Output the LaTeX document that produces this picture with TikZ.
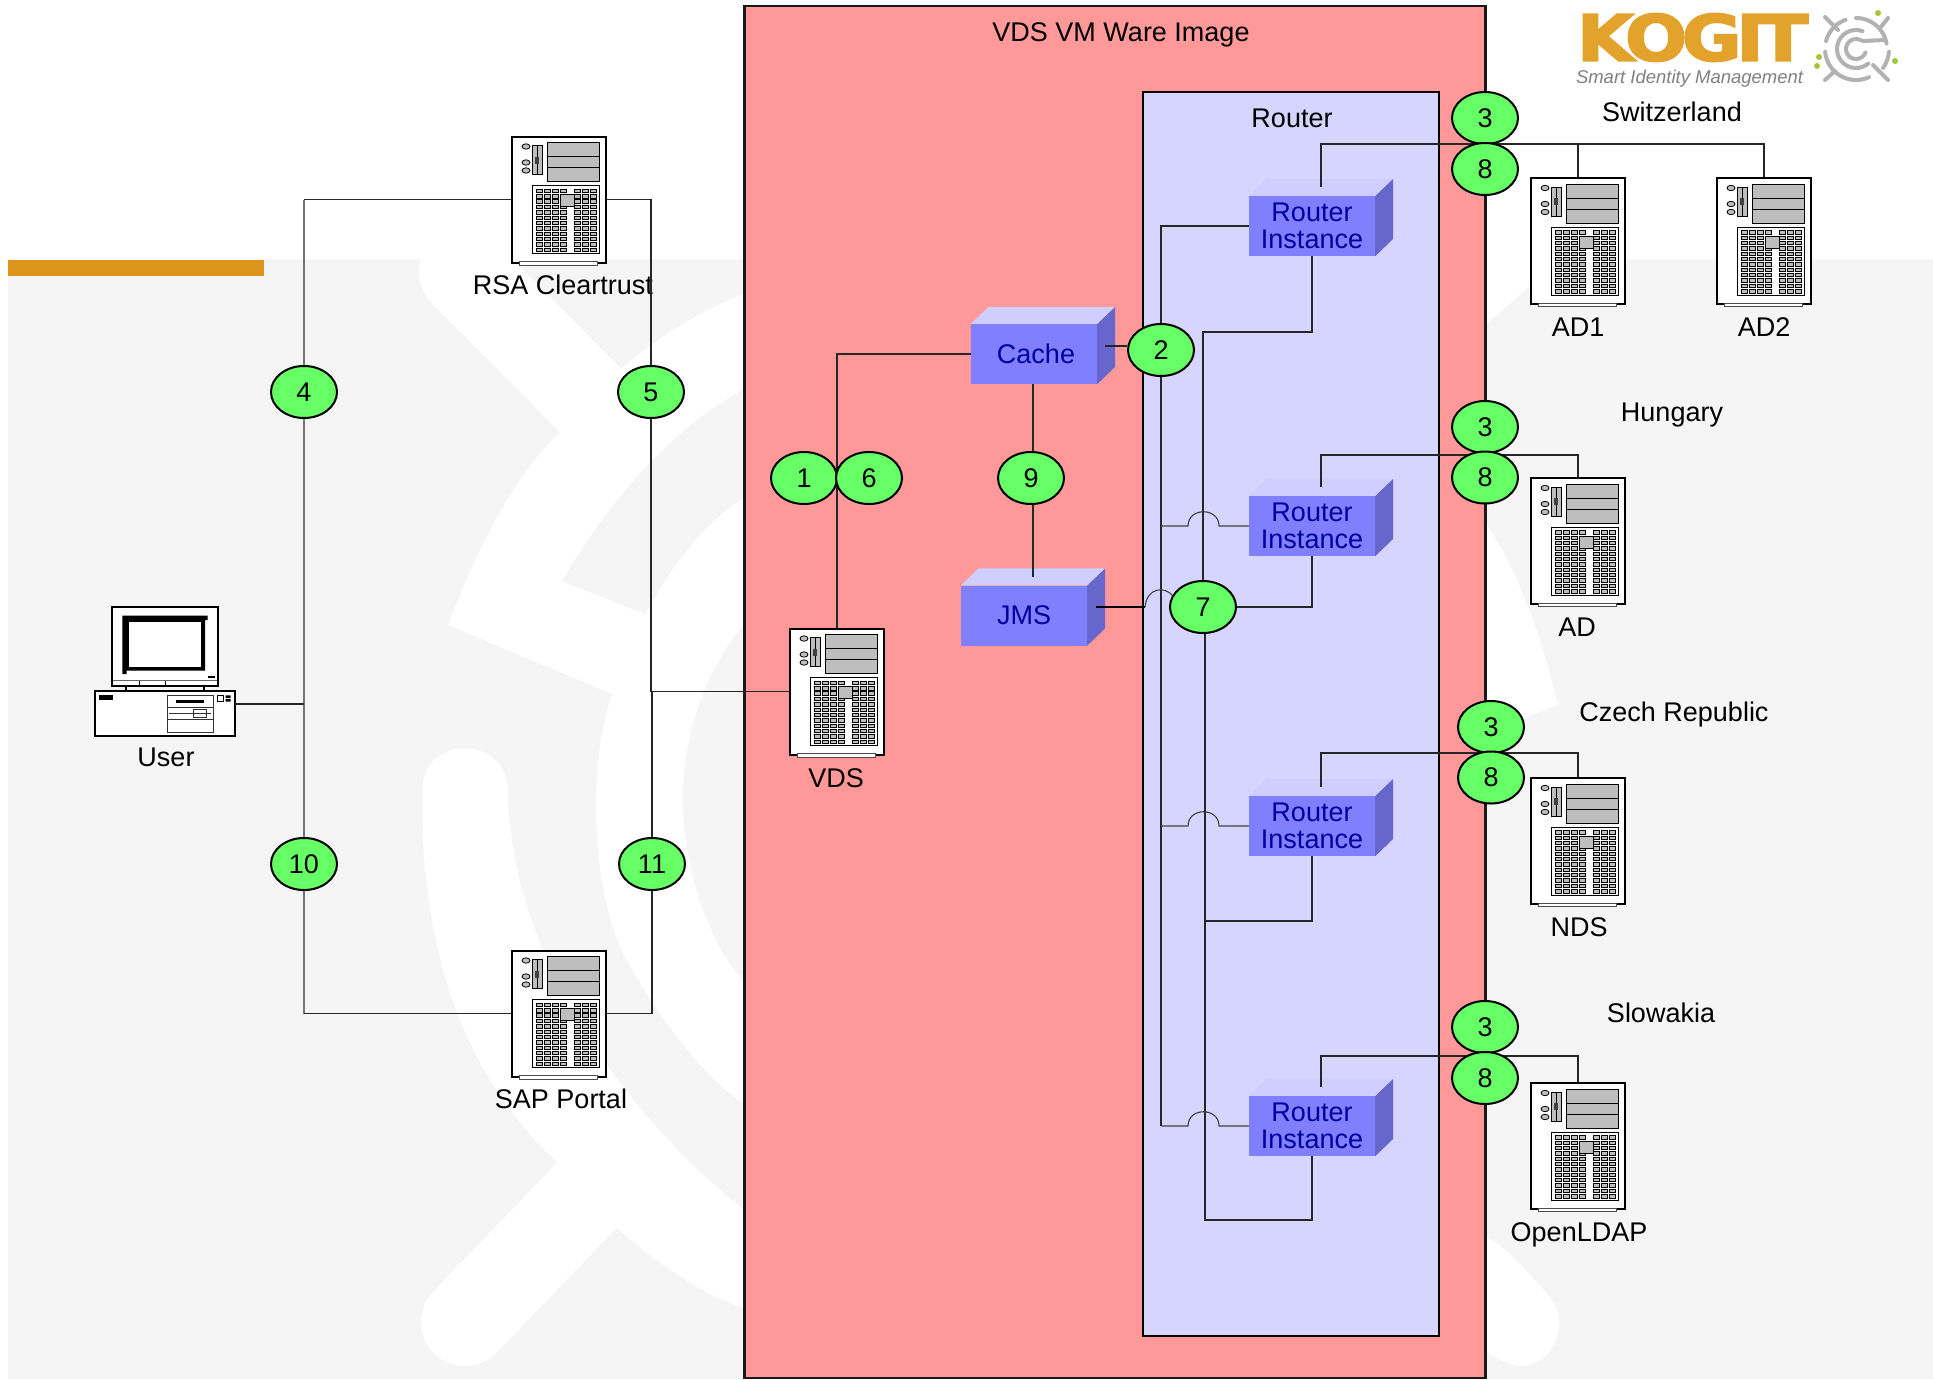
\documentclass[tikz,border=0pt]{standalone}
\usepackage{fontspec}
\usepackage{graphicx}
\setmainfont{Liberation Sans}
\newfontfamily\logofont{DejaVu Sans Bold}[FakeBold=3,LetterSpace=-7]
\usetikzlibrary{shapes.geometric,calc}
\pgfdeclarelayer{bg}
\pgfdeclarelayer{conn}
\pgfdeclarelayer{top}
\pgfsetlayers{bg,main,conn,top}
\definecolor{wmgray}{HTML}{F5F5F5}
\definecolor{barorange}{HTML}{DB951A}
\definecolor{pinkbox}{HTML}{FF9999}
\definecolor{routerbg}{HTML}{D5D5FF}
\definecolor{frontblue}{HTML}{8080FF}
\definecolor{sideblue}{HTML}{6666CC}
\definecolor{topblue}{HTML}{CFCFFF}
\definecolor{txtblue}{HTML}{0000A0}
\definecolor{stepgreen}{HTML}{66FF66}
\definecolor{logoorange}{HTML}{E2A22C}
\definecolor{logogray}{HTML}{B2B2B2}
\definecolor{logogreen}{HTML}{A6C63A}
\definecolor{srvgray}{HTML}{BEBEBE}
\newcommand{\lblfont}{\fontsize{27}{26.5}\selectfont}
\tikzset{
  stepoval/.style={ellipse,draw=black,line width=2pt,fill=stepgreen,minimum width=66pt,minimum height=52pt,inner sep=0pt,font=\lblfont},
  srvbox/.style={rectangle,draw=black,line width=2pt,fill=white,minimum width=94pt,minimum height=126pt,inner sep=0pt},
  cubefront/.style={rectangle,fill=frontblue,minimum width=126pt,minimum height=60pt,inner sep=0pt,align=center,text=txtblue,font=\lblfont},
  lbl/.style={font=\lblfont,inner sep=0pt,text=black},
  wire/.style={line width=1.1pt,draw=black!85},
  graywire/.style={line width=2pt,draw=black!55},
  hopwire/.style={line width=1.1pt,draw=black!75},
  logostroke/.style={line width=4pt,draw=logogray,line cap=round},
  serverart/.pic={
    \fill[white,draw=black!70,line width=1pt] (8,126) rectangle (86,129.5);
    \foreach \oy in {11,27,35}{\draw[fill=srvgray,line width=.8pt] (15,\oy) ellipse[x radius=4,y radius=2.7];}
    \draw[fill=srvgray,line width=.8pt] (21,10) rectangle (31,39);
    \draw[line width=.6pt] (26,10) -- (26,39);
    \fill[black!75] (24,21) rectangle (28,28);
    \draw[fill=srvgray,line width=.8pt] (36,7) rectangle (88,46);
    \draw[line width=.9pt] (36,21) -- (88,21) (36,32) -- (88,32);
    \draw[fill=white,line width=.8pt] (21,50) rectangle (88,118);
    \foreach \r in {0,...,11}{
      \foreach \cx in {25,33,41,49,63,71,79}{
        \draw[fill=srvgray,line width=.5pt] (\cx,{53.5+\r*5.35}) rectangle ++(6,3.4);
      }
    }
    \draw[fill=srvgray,line width=.8pt] (49,59) rectangle (63,71);
  }
}
\newcommand{\cubesides}[1]{%
  \fill[sideblue] (#1.north east) -- ++(18,-17) -- ++(0,60) -- (#1.south east) -- cycle;
  \fill[topblue] (#1.north west) -- ++(18,-17) -- ++(126,0) -- (#1.north east) -- cycle;
}
\newcommand{\logoarc}[3]{\draw[logostroke] plot[domain=#2:#3,samples=24] ({1856+#1*cos(\x)},{49+#1*sin(\x)});}
\begin{document}
\begin{tikzpicture}[x=1pt,y=-1pt]
\useasboundingbox (0,0) rectangle (1933,1379);

\begin{pgfonlayer}{bg}
  \fill[white] (0,0) rectangle (1933,1379);
  \fill[wmgray] (8,259) rectangle (1933,1379);
  % watermark
  \draw[white,line width=88pt,line cap=round] (463,272) -- (590,400);
  \fill[white] (432,303) -- (560,432) .. controls (510,480) and (475,555) .. (448,625)
     -- (612,694) .. controls (600,730) and (596,770) .. (596,807)
     .. controls (596,860) and (605,925) .. (630,966)
     .. controls (655,1010) and (700,1075) .. (744,1104) -- (800,1130) -- (800,280) -- (744,294)
     .. controls (700,310) and (655,340) .. (621,369) -- (494,241) -- cycle;
  \fill[wmgray] (562,581) .. controls (610,500) and (670,430) .. (744,389) -- (800,360) -- (800,470) -- (744,498)
     .. controls (700,525) and (670,570) .. (645,614) -- cycle;
  \fill[wmgray] (744,625) .. controls (705,670) and (683,735) .. (683,799)
     .. controls (683,860) and (705,940) .. (744,981) -- (800,1020) -- (800,590) -- cycle;
  \fill[white] (422,790) .. controls (422,765) and (442,748) .. (464,748)
     .. controls (486,748) and (508,765) .. (508,790) -- (508,799)
     .. controls (515,960) and (620,1110) .. (744,1210) -- (800,1235) -- (800,1335) -- (744,1308)
     .. controls (690,1290) and (650,1255) .. (616,1228) -- (557,1162)
     .. controls (480,1090) and (422,980) .. (422,799) -- cycle;
  \draw[white,line width=88pt,line cap=round] (465,1322) -- (587,1195);
  \fill[white] (1480,330) -- (1560,259) -- (1480,259) -- cycle;
  \fill[white] (1480,515) .. controls (1520,570) and (1545,650) .. (1558,705) -- (1480,735) -- cycle;
  \fill[white] (1480,1232) .. controls (1510,1250) and (1530,1275) .. (1540,1286)
     .. controls (1555,1300) and (1559,1312) .. (1559,1322)
     .. controls (1559,1345) and (1545,1364) .. (1524,1366)
     .. controls (1510,1366) and (1495,1358) .. (1480,1348) -- cycle;
  % orange bar
  \fill[barorange] (8,260) rectangle (264,276);
  % containers
  \node[rectangle,draw=black!90,line width=2.6pt,fill=pinkbox,minimum width=741pt,minimum height=1372pt,inner sep=0pt] (vmimage) at (1115,692) {};
  \node[rectangle,draw=black,line width=2.6pt,fill=routerbg,minimum width=296pt,minimum height=1244pt,inner sep=0pt] (routerarea) at (1291,714) {};
\end{pgfonlayer}

% logo
\node[inner sep=0pt,text=logoorange] (logoword) at (1692.5,37.5) {\resizebox{231pt}{47pt}{\logofont KOGIT}};
\node[inner sep=0pt,text=black!50] (logotag) at (1689.5,78.5) {\resizebox{227pt}{!}{\itshape Smart Identity Management}};
\logoarc{10}{20}{300}
\logoarc{19}{50}{290}
\logoarc{31}{195}{250}
\logoarc{31}{270}{350}
\logoarc{33}{5}{35}
\logoarc{31}{65}{175}
\draw[logostroke] (1863,41) -- (1885,40);
\draw[logostroke] (1825,17) -- (1838,30);
\draw[logostroke] (1888,18) -- (1880,28);
\draw[logostroke] (1825,80) -- (1835,71);
\draw[logostroke] (1888,80) -- (1873,65);
\fill[logogreen] (1878,13) circle[radius=3] (1819,57) circle[radius=3] (1817,66) circle[radius=3] (1895,61) circle[radius=3];

% step markers
\begin{pgfonlayer}{top}
  \node[stepoval] (e4) at (304,392) {4};
  \node[stepoval] (e5) at (651,392) {5};
  \node[stepoval] (e10) at (304,864) {10};
  \node[stepoval] (e11) at (652,864) {11};
  \node[stepoval] (e1) at (804,478) {1};
  \node[stepoval] (e6) at (869,478) {6};
  \node[stepoval] (e9) at (1031,478) {9};
  \node[stepoval] (e2) at (1161,350) {2};
  \node[stepoval] (e7) at (1203,607) {7};
  \node[stepoval] (sa) at (1485,118) {3};
  \node[stepoval] (sb) at (1485,169) {8};
  \node[stepoval] (ha) at (1485,427) {3};
  \node[stepoval] (hb) at (1485,477.5) {8};
  \node[stepoval] (ca) at (1491,727) {3};
  \node[stepoval] (cb) at (1491,777.5) {8};
  \node[stepoval] (la) at (1485,1027) {3};
  \node[stepoval] (lb) at (1485,1078) {8};
\end{pgfonlayer}

% servers
\foreach \nm/\cx/\cy in {RSA/559/199.5,SAP/559/1013.5,VDS/837/691.5,ADa/1578/241,ADb/1764/241,ADh/1578/541,NDS/1578/841,LDAP/1578/1146}{
  \node[srvbox] (\nm) at (\cx,\cy) {};
  \pic at (\nm.north west) {serverart};
}

% user computer
\node[rectangle,draw=black,line width=2pt,fill=white,minimum width=140pt,minimum height=44.7pt,inner sep=0pt] (PC) at (165,713.3) {};
\node[rectangle,draw=black,line width=2pt,fill=white,minimum width=105.4pt,minimum height=79pt,inner sep=0pt] (screen) at (165,646.2) {};
\fill (122.3,615.7) -- (207.7,615.7) -- (207.7,620) -- (205,620) -- (205,670.5) -- (126.7,670.5) -- (126.7,674) -- (122.3,674) -- cycle;
\fill[white] (129.3,622.3) rectangle (200.7,667.3);
\draw[black!60,line width=1.3pt] (113,680.7) -- (217,680.7);
\draw[line width=.8pt] (139,680.7) -- (139,685) (165,680.7) -- (165,685);
\fill (208,676) rectangle (215,678);
\draw[line width=2pt] (125.7,685.7) -- (125.7,691) (204,685.7) -- (204,691);
\fill (99.3,695) rectangle (113.3,700);
\draw[line width=.8pt,black!80] (167,695) rectangle (213,732) (167,707.3) -- (213,707.3) (167,719.3) -- (213,719.3) (169,713.3) -- (210.7,713.3) (193.3,709.3) rectangle (206.7,717.7);
\fill (175.7,700) rectangle (204.3,702.7);
\draw[line width=.8pt] (217.3,695.3) rectangle (223.7,701.7);
\fill (225.7,695.3) rectangle (230.7,698) (225.7,699) rectangle (230.7,701.7);
\coordinate (pcport) at (235,704);

% blue boxes
\foreach \nm/\cy in {RIa/226,RIb/526,RIc/826,RId/1126}{
  \node[cubefront] (\nm) at (1312,\cy) {Router\\Instance};
  \cubesides{\nm}
}
\node[cubefront] (cache) at (1034,354) {\hspace*{4pt}Cache};
\cubesides{cache}
\node[cubefront] (jms) at (1024,615.5) {JMS};
\cubesides{jms}

% labels
\node[lbl] (vmtitle) at (1121,34.5) {VDS VM Ware Image};
\node[lbl] (routertitle) at (1292,118) {Router};
\node[lbl] (rsalbl) at (563,285) {RSA Cleartrust};
\node[lbl] (saplbl) at (561,1099) {SAP Portal};
\node[lbl] (vdslbl) at (836,778) {VDS};
\node[lbl] (userlbl) at (166,757) {User};
\node[lbl] (ad1lbl) at (1578,327.5) {AD1};
\node[lbl] (ad2lbl) at (1764,327) {AD2};
\node[lbl] (adlbl) at (1577,627) {AD};
\node[lbl] (ndslbl) at (1579,927) {NDS};
\node[lbl] (ldaplbl) at (1579,1234.5) {OpenLDAP};
\node[lbl] (swlbl) at (1672,111.5) {Switzerland};
\node[lbl] (hulbl) at (1672,415.5) {Hungary};
\node[lbl] (czlbl) at (1674,715) {Czech Republic};
\node[lbl] (sllbl) at (1661,1013) {Slowakia};

% named junctions
\coordinate (ctop) at (1105,346);
\coordinate (jmsout) at (1096,607);
\coordinate (jmstop) at (1033,577);
\coordinate (hopa) at (1145,607);
\coordinate (hopb) at (1173,596);
\coordinate (t1) at (1321,187);
\coordinate (t2) at (1321,487);
\coordinate (t3) at (1321,787);
\coordinate (t4) at (1321,1087);
\coordinate (u1) at (1321,144);
\coordinate (u2) at (1321,455);
\coordinate (u3) at (1321,753);
\coordinate (u4) at (1321,1056);

\begin{pgfonlayer}{conn}
  % left-hand ring
  \draw[graywire] (e4) -- (e10);
  \draw[graywire] (e4.north) -- (e4.north |- RSA.west);
  \draw[graywire] (e10.south) -- (e10.south |- SAP.west);
  \draw[wire] (RSA.west) -- (RSA.west -| e4);
  \draw[wire] (SAP.west) -- (SAP.west -| e10);
  \draw[wire] (pcport) -- (pcport -| e4);
  \draw[wire] (RSA.east) -| (e5.north);
  \draw[wire] (SAP.east) -| (e11.south);
  \draw[wire] (e5.south) -- (e5.south |- VDS.west);
  \draw[wire] (e11.north) -- (e11.north |- VDS.west);
  \draw[wire] (e5.south |- VDS.west) -- (VDS.west);
  % VDS to cache
  \draw[wire] (VDS.north) |- (cache.west);
  % cache, JMS
  \draw[wire] (jmstop |- cache.south) -- (jmstop |- e9.north);
  \draw[wire] (jmstop |- e9.south) -- (jmstop);
  \draw[wire] (ctop) -- (e2.west |- ctop);
  \draw[wire] (e2.south) -- (e2.south |- RId.west);
  \draw[wire] (e2.north) -- (e2.north |- RIa.west) -- (RIa.west);
  \foreach \nm in {RIb,RIc,RId}{
    \draw[hopwire] (e2.south |- \nm.west) -- (1188,0 |- \nm.west)
       .. controls ($(1188,0 |- \nm.west)+(0,-19)$) and ($(1219,0 |- \nm.west)+(0,-19)$) .. (1219,0 |- \nm.west) -- (\nm.west);
  }
  % JMS to marker 7 and instances
  \draw[line width=1.8pt,black] (jmsout) -- (hopa);
  \draw[hopwire] (hopa) .. controls (1147,587) and (1165,586) .. (hopb);
  \draw[wire] (e7.north) -- (e7.north |- 0,332) -| (RIa.south);
  \draw[wire] (e7.east) -| (RIb.south);
  \draw[wire] (1205,632) |- (1312,921) -- (RIc.south);
  \draw[wire] (1205,632) |- (1312,1220) -- (RId.south);
  % directories
  \draw[wire] (t1) -- (u1) -| (ADa.north);
  \draw[wire] (u1) -| (ADb.north);
  \draw[wire] (t2) -- (u2) -| (ADh.north);
  \draw[wire] (t3) -- (u3) -| (NDS.north);
  \draw[wire] (t4) -- (u4) -| (LDAP.north);
\end{pgfonlayer}
\end{tikzpicture}
\end{document}
